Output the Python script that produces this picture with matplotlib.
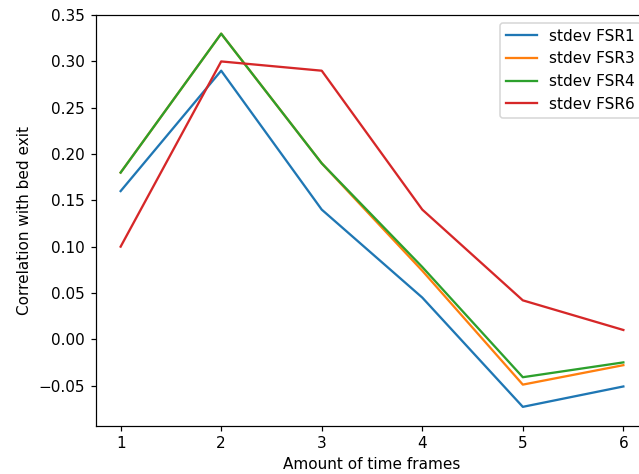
import matplotlib
matplotlib.use("Agg")
import matplotlib.pyplot as plt

frames = [1, 2, 3, 4, 5, 6]
fsr1 = [0.16, 0.29, 0.14, 0.045, -0.073, -0.051]
fsr3 = [0.18, 0.33, 0.19, 0.074, -0.049, -0.028]
fsr4 = [0.18, 0.33, 0.19, 0.078, -0.041, -0.025]
fsr6 = [0.10, 0.30, 0.29, 0.14, 0.042, 0.010]

W, H = 639, 474
DPI = 110
fig = plt.figure(figsize=(W / DPI, H / DPI), dpi=DPI)
# axes run past the right edge, as in the cropped original
ax = fig.add_axes([95.5 / W, (H - 425.5) / H, 553 / W, 410.5 / H])

ax.plot(frames, fsr1, label="stdev FSR1")
ax.plot(frames, fsr3, label="stdev FSR3")
ax.plot(frames, fsr4, label="stdev FSR4")
ax.plot(frames, fsr6, label="stdev FSR6")

ax.set_xlabel("Amount of time frames")
ax.set_ylabel("Correlation with bed exit")
ax.legend(loc="upper right")

fig.savefig("out.png", dpi=DPI)
